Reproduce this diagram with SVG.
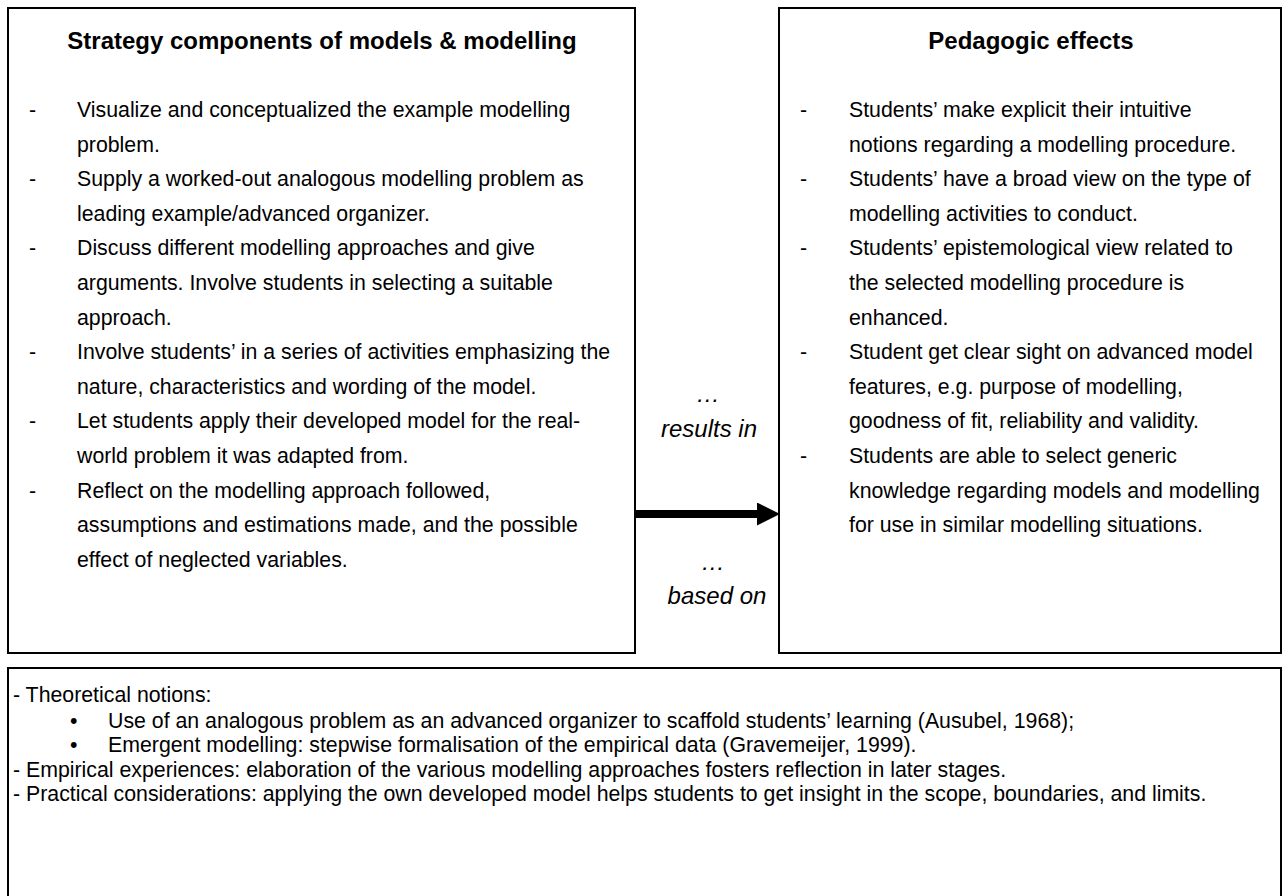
<svg xmlns="http://www.w3.org/2000/svg" width="1288" height="896" viewBox="0 0 1288 896">
<style>
.box{fill:#fff;stroke:#000;stroke-width:2}
.t{font-family:"Liberation Sans",Arial,sans-serif;font-size:21.3px;fill:#000}
.h{font-family:"Liberation Sans",Arial,sans-serif;font-size:24px;font-weight:bold;fill:#000;text-anchor:middle}
.lbl{font-family:"Liberation Sans",Arial,sans-serif;font-size:24px;font-style:italic;fill:#000;text-anchor:middle}
</style>
<defs>
<marker id="ah" markerUnits="userSpaceOnUse" markerWidth="23" markerHeight="23" refX="0" refY="11.5" orient="auto">
<path d="M0,0 L23,11.5 L0,23 Z" fill="#000"/>
</marker>
</defs>
<rect width="1288" height="896" fill="#fff"/>

<g id="strategy">
<rect class="box" x="8" y="8" width="627" height="645"/>
<text class="h" x="322" y="49">Strategy components of models &amp; modelling</text>
<g class="t">
<text x="29" y="117">-</text><text x="77" y="117">Visualize and conceptualized the example modelling</text>
<text x="77" y="151.6">problem.</text>
<text x="29" y="186.2">-</text><text x="77" y="186.2">Supply a worked-out analogous modelling problem as</text>
<text x="77" y="220.8">leading example/advanced organizer.</text>
<text x="29" y="255.4">-</text><text x="77" y="255.4">Discuss different modelling approaches and give</text>
<text x="77" y="290">arguments. Involve students in selecting a suitable</text>
<text x="77" y="324.6">approach.</text>
<text x="29" y="359.2">-</text><text x="77" y="359.2">Involve students’ in a series of activities emphasizing the</text>
<text x="77" y="393.8">nature, characteristics and wording of the model.</text>
<text x="29" y="428.4">-</text><text x="77" y="428.4">Let students apply their developed model for the real-</text>
<text x="77" y="463">world problem it was adapted from.</text>
<text x="29" y="497.6">-</text><text x="77" y="497.6">Reflect on the modelling approach followed,</text>
<text x="77" y="532.2">assumptions and estimations made, and the possible</text>
<text x="77" y="566.8">effect of neglected variables.</text>
</g>
</g>

<g id="effects">
<rect class="box" x="779" y="8" width="502" height="645"/>
<text class="h" x="1031" y="49">Pedagogic effects</text>
<g class="t">
<text x="800" y="117">-</text><text x="849" y="117">Students’ make explicit their intuitive</text>
<text x="849" y="151.6">notions regarding a modelling procedure.</text>
<text x="800" y="186.2">-</text><text x="849" y="186.2">Students’ have a broad view on the type of</text>
<text x="849" y="220.8">modelling activities to conduct.</text>
<text x="800" y="255.4">-</text><text x="849" y="255.4">Students’ epistemological view related to</text>
<text x="849" y="290">the selected modelling procedure is</text>
<text x="849" y="324.6">enhanced.</text>
<text x="800" y="359.2">-</text><text x="849" y="359.2">Student get clear sight on advanced model</text>
<text x="849" y="393.8">features, e.g. purpose of modelling,</text>
<text x="849" y="428.4">goodness of fit, reliability and validity.</text>
<text x="800" y="463">-</text><text x="849" y="463">Students are able to select generic</text>
<text x="849" y="497.6">knowledge regarding models and modelling</text>
<text x="849" y="532.2">for use in similar modelling situations.</text>
</g>
</g>

<g id="connectors">
<line x1="636" y1="514" x2="757" y2="514" stroke="#000" stroke-width="8" marker-end="url(#ah)"/>
<text class="lbl" x="708" y="402">…</text>
<text class="lbl" x="709" y="437">results in</text>
<text class="lbl" x="713" y="570">…</text>
<text class="lbl" x="717" y="604">based on</text>
</g>

<g id="rationale">
<rect class="box" x="8" y="668" width="1273" height="240"/>
<g class="t">
<text x="13" y="702">- Theoretical notions:</text>
<text x="70" y="728">•</text><text x="108" y="728">Use of an analogous problem as an advanced organizer to scaffold students’ learning (Ausubel, 1968);</text>
<text x="70" y="752">•</text><text x="108" y="752">Emergent modelling: stepwise formalisation of the empirical data (Gravemeijer, 1999).</text>
<text x="13" y="777">- Empirical experiences: elaboration of the various modelling approaches fosters reflection in later stages.</text>
<text x="13" y="801">- Practical considerations: applying the own developed model helps students to get insight in the scope, boundaries, and limits.</text>
</g>
</g>
</svg>
